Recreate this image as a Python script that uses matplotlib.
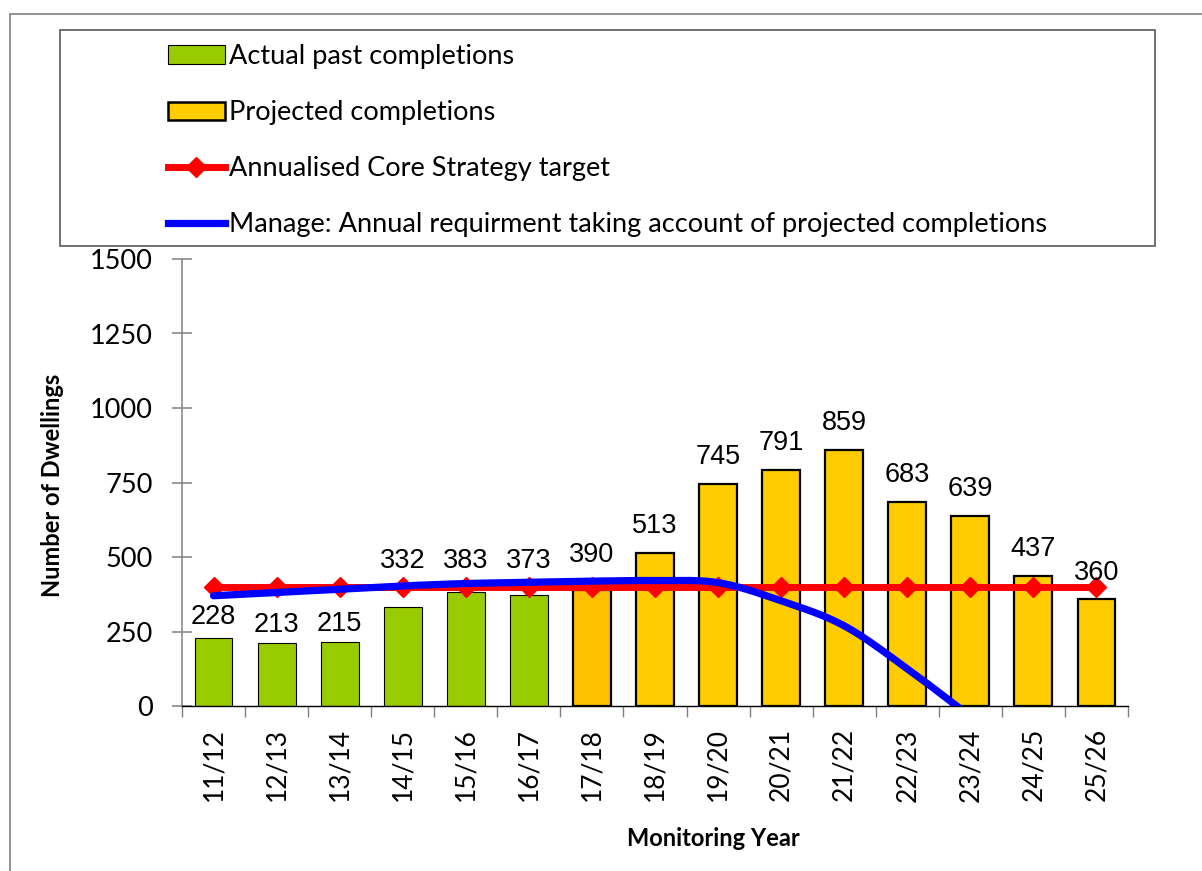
import numpy as np
import matplotlib
matplotlib.use('Agg')
import matplotlib.pyplot as plt
from matplotlib.patches import Rectangle, Patch
from matplotlib.lines import Line2D

# data
years = ['11/12', '12/13', '13/14', '14/15', '15/16', '16/17', '17/18', '18/19',
         '19/20', '20/21', '21/22', '22/23', '23/24', '24/25', '25/26']
actual_completions = [228, 213, 215, 332, 383, 373]
projected_completions = [390, 513, 745, 791, 859, 683, 639, 437, 360]
core_target = [400, 400, 400, 400, 400, 400, 400, 400, 400, 400, 400, 400, 400, 400, 400]
manage_req = [370, 381, 392, 403, 411, 415, 419, 421, 414, 353, 269, 125, -35]

# label lift above bar top (pixels), as placed in the original
label_lift = [21, 18, 18, 46, 31, 34, 35, 27, 27, 27, 27, 27, 27, 27, 26]

CAL = ['Lato', 'DejaVu Sans']
ARIAL = ['Liberation Sans', 'DejaVu Sans']


def smooth(xs, ys, steps=30):
    # Excel style smoothed line (Catmull-Rom through the points)
    xs = np.asarray(xs, float)
    ys = np.asarray(ys, float)
    px = np.concatenate([[xs[0]], xs, [xs[-1]]])
    py = np.concatenate([[ys[0]], ys, [ys[-1]]])
    outx, outy = [], []
    t = np.linspace(0, 1, steps)
    for i in range(1, len(px) - 2):
        p0x, p1x, p2x, p3x = px[i - 1], px[i], px[i + 1], px[i + 2]
        p0y, p1y, p2y, p3y = py[i - 1], py[i], py[i + 1], py[i + 2]
        b1x, b1y = p1x + (p2x - p0x) / 6, p1y + (p2y - p0y) / 6
        b2x, b2y = p2x - (p3x - p1x) / 6, p2y - (p3y - p1y) / 6
        bx = (1-t)**3*p1x + 3*(1-t)**2*t*b1x + 3*(1-t)*t**2*b2x + t**3*p2x
        by = (1-t)**3*p1y + 3*(1-t)**2*t*b1y + 3*(1-t)*t**2*b2y + t**3*p2y
        outx.extend(bx)
        outy.extend(by)
    return np.array(outx), np.array(outy)


fig = plt.figure(figsize=(12.02, 8.71), dpi=100)
W, H = 1202, 871
ax = fig.add_axes([182/W, 1-706/H, 946/W, 447/H])

x = np.arange(len(years))
n_act = len(actual_completions)
x_act = x[:n_act]
x_proj = x[n_act:]

ax.bar(x_act, actual_completions, width=0.6, color='#99CC00', edgecolor='black', linewidth=0.8, zorder=2)
proj_colors = ['#FFC000'] + ['#FFCC00'] * (len(projected_completions) - 1)
ax.bar(x_proj, projected_completions, width=0.6, color=proj_colors, edgecolor='black', linewidth=1.6, zorder=2)

ax.plot(x, core_target, color='#FF0000', lw=5, marker='D', markersize=10, zorder=3)

sx, sy = smooth(x[:len(manage_req)], manage_req)
ax.plot(sx, sy, color='#0000FF', lw=5.2, solid_capstyle='round', zorder=4)

all_vals = actual_completions + projected_completions
for xi, v, lift in zip(x, all_vals, label_lift):
    ax.annotate(str(v), (xi, v), xytext=(0, lift*0.72), textcoords='offset points',
                ha='center', va='center', fontsize=19.5, family=ARIAL, zorder=5)

ax.set_xlim(-0.5, len(years) - 0.5)
ax.set_ylim(0, 1500)
ax.set_yticks([0, 250, 500, 750, 1000, 1250, 1500])
ax.set_xticks(np.arange(-0.5, len(years)), minor=False)
ax.set_xticklabels([])
ax.set_xticks(x, minor=True)
ax.set_xticklabels(years, minor=True, rotation=90, fontsize=19, family=CAL)
ax.tick_params(axis='x', which='major', direction='out', length=8, color='#808080', width=1)
ax.tick_params(axis='x', which='minor', length=0, pad=16)
ax.tick_params(axis='y', direction='inout', length=14, color='#808080', width=1.1, pad=14)
for lab in ax.get_yticklabels():
    lab.set_fontsize(19.5)
    lab.set_family(CAL)

for s in ['top', 'right']:
    ax.spines[s].set_visible(False)
ax.spines['left'].set_color('#808080')
ax.spines['left'].set_linewidth(1.1)
ax.spines['bottom'].set_color('black')
ax.spines['bottom'].set_linewidth(1)

fig.text(52/W, 1-485/H, 'Number of Dwellings', rotation=90, ha='center', va='center',
         fontsize=17, fontweight='bold', family=CAL)
fig.text(713/W, 1-838/H, 'Monitoring Year', ha='center', va='center',
         fontsize=17, fontweight='bold', family=CAL)

# outer chart border and legend frame
fig.add_artist(Rectangle((10/W, -0.1), 1.2, 1-14/H+0.1, transform=fig.transFigure,
                         fill=False, edgecolor='#7f7f7f', lw=1.2))
fig.add_artist(Rectangle((60/W, 1-246/H), (1155-60)/W, (246-30)/H, transform=fig.transFigure,
                         fill=False, edgecolor='#595959', lw=1.2, zorder=1))

handles = [Patch(facecolor='#99CC00', edgecolor='black', linewidth=0.8),
           Patch(facecolor='#FFCC00', edgecolor='black', linewidth=1.8),
           Line2D([], [], color='#FF0000', lw=5, marker='D', markersize=10),
           Line2D([], [], color='#0000FF', lw=5.2)]
labels = ['Actual past completions', 'Projected completions',
          'Annualised Core Strategy target',
          'Manage: Annual requirment taking account of projected completions']
fig.legend(handles, labels, loc='upper left', bbox_to_anchor=(168/W, 1-44/H),
           frameon=False, borderpad=0, borderaxespad=0, handlelength=2.1,
           handleheight=0.65, handletextpad=0.15, labelspacing=1.15,
           prop={'family': CAL, 'size': 19.5})

fig.savefig('out.png', dpi=100)
